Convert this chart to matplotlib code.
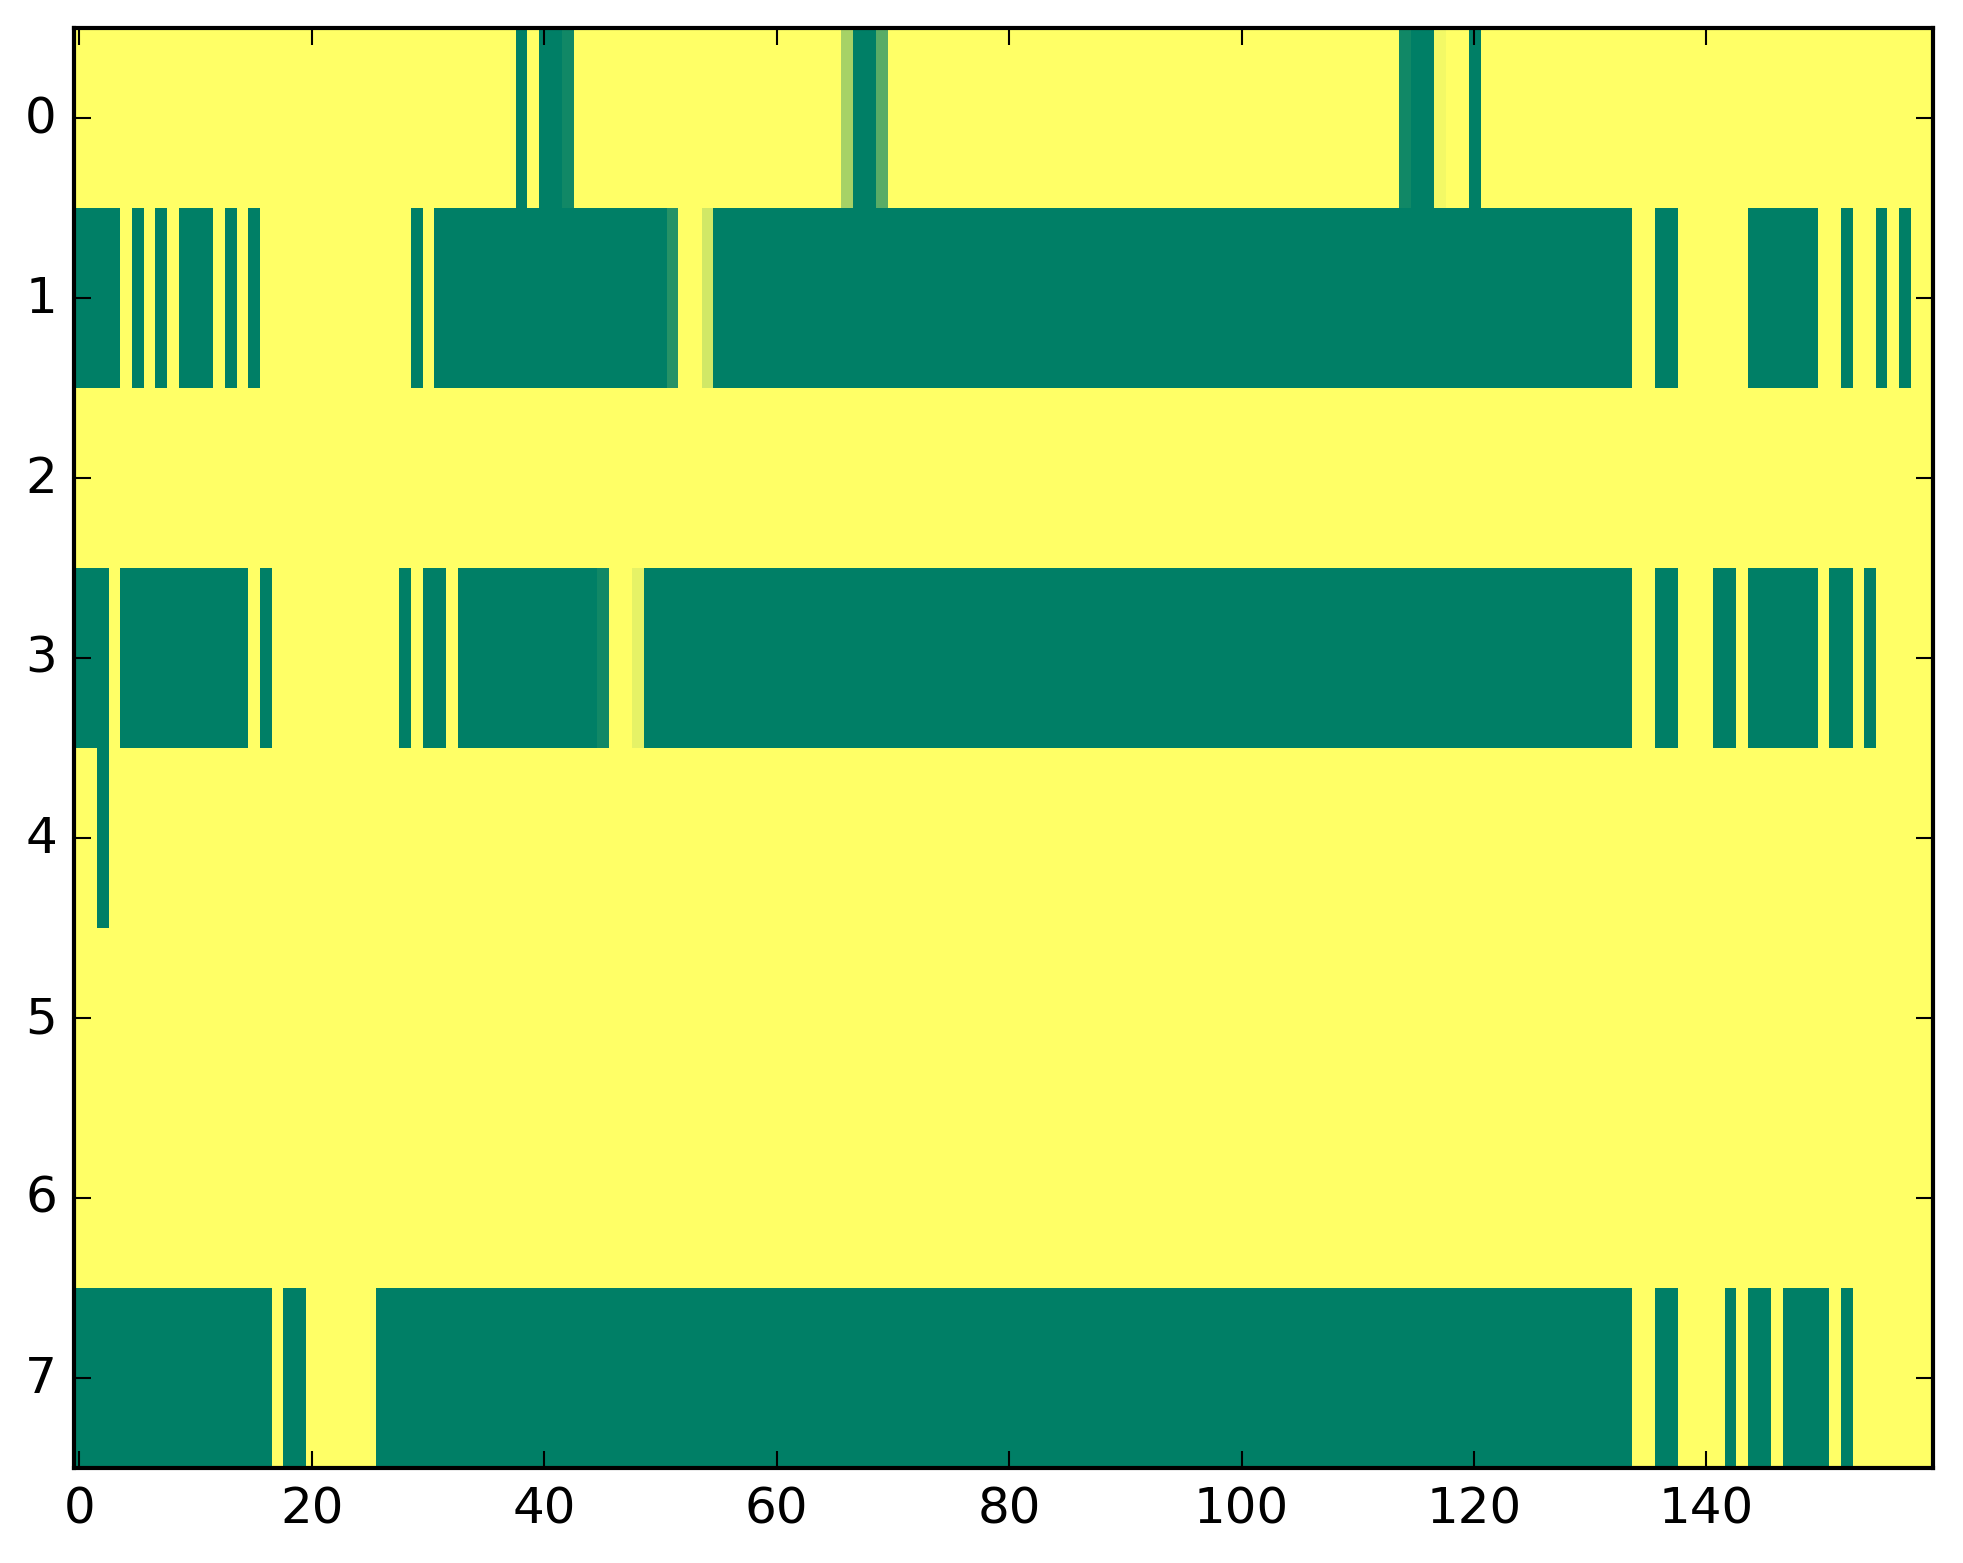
import numpy as np
import matplotlib
matplotlib.use("Agg")
import matplotlib.pyplot as plt

# one character per column: '#' = 0 (green), '.' = 1 (yellow), letters = in-between values
LEVELS = {"#": 0.0, ".": 1.0, "a": 0.07, "b": 0.15, "c": 0.35, "d": 0.65, "e": 0.82, "f": 0.9, "g": 0.95}

N_COLS = 160
YELLOW = "." * 10
GREEN = "#" * 10

row0 = [YELLOW, YELLOW, YELLOW, "........#.", "##a.......", YELLOW, "......d##c", YELLOW,
        YELLOW, YELLOW, YELLOW, "....a##g..", "#.........", YELLOW, YELLOW, YELLOW]
row1 = ["####.#.#.#", "##.#.#....", ".........#", ".#########", GREEN, "#b..e#####",
        GREEN, GREEN, GREEN, GREEN, GREEN, GREEN, GREEN, "####..##..", "....######", "..#..#.#.."]
row2 = [YELLOW] * 16
row3 = ["###.######", "#####.#...", "........#.", "##.#######", "#####a..f#",
        GREEN, GREEN, GREEN, GREEN, GREEN, GREEN, GREEN, GREEN, "####..##..", ".##.######", ".##.#....."]
row4 = ["..#......."] + [YELLOW] * 15
row5 = [YELLOW] * 16
row6 = [YELLOW] * 16
row7 = [GREEN, "#######.##", "......####", GREEN, GREEN, GREEN, GREEN, GREEN, GREEN,
        GREEN, GREEN, GREEN, GREEN, "####..##..", "..#.##.###", "#.#......."]

rows = [row0, row1, row2, row3, row4, row5, row6, row7]


def decode(chunks):
    text = "".join(chunks)
    assert len(text) == N_COLS, len(text)
    return [LEVELS[ch] for ch in text]


matrix = np.array([decode(r) for r in rows])

plt.style.use("classic")
fig = plt.figure(figsize=(1963 / 300, 1564 / 300), dpi=300, facecolor="white")
ax = fig.add_axes([73.6 / 1963, 1 - 1469 / 1564, (1933 - 73.6) / 1963, (1469 - 29) / 1564])
ax.imshow(matrix, cmap="summer", vmin=0, vmax=1, aspect="auto", interpolation="nearest")
ax.set_xticks(np.arange(0, 141, 20))
ax.set_yticks(np.arange(0, 8))
ax.set_xlim(-0.5, N_COLS - 0.5)
ax.set_ylim(len(rows) - 0.5, -0.5)

fig.savefig("out.png", dpi=300, facecolor="white")
